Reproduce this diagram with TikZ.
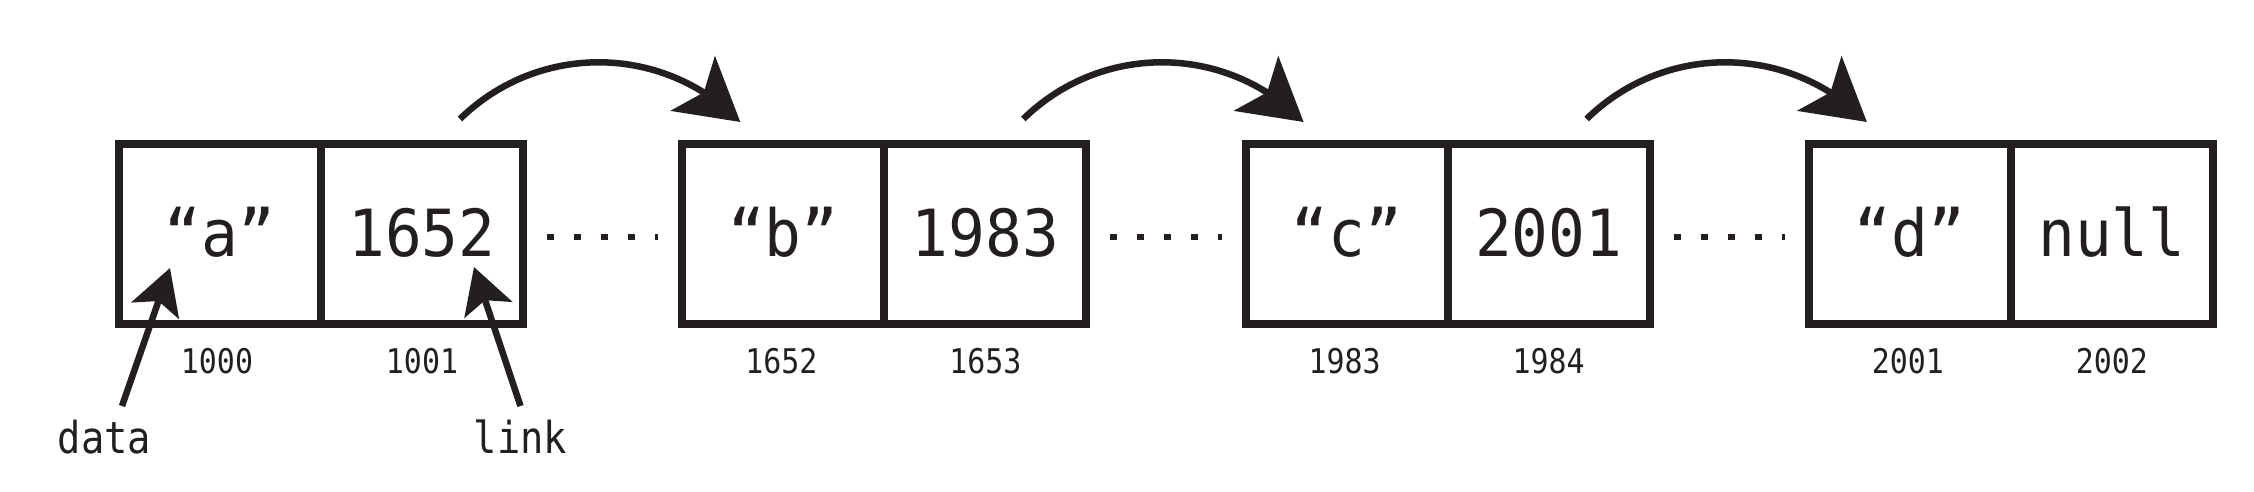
\documentclass[tikz,border=0pt]{standalone}
\usepackage{fontspec}
\newfontfamily\dvmono[FakeStretch=0.88]{DejaVu Sans Mono}
\newfontfamily\dvmonobig[FakeStretch=0.94]{DejaVu Sans Mono}
\usetikzlibrary{arrows.meta,bending}
\definecolor{ink}{RGB}{35,31,32}
\begin{document}
\begin{tikzpicture}[x=1pt,y=-1pt,
  cell/.style={draw=ink,line width=8pt,minimum width=202pt,minimum height=180pt,
    inner sep=0pt,outer sep=0pt,text=ink,text height=44pt,text depth=0pt,
    font=\dvmonobig\fontsize{65}{72}\selectfont},
  addr/.style={text=ink,inner sep=0pt,font=\dvmono\fontsize{34}{40}\selectfont},
  lbl/.style={text=ink,inner sep=0pt,text height=26pt,text depth=0pt,font=\dvmono\fontsize{44}{50}\selectfont},
  dots/.style={draw=ink,line width=6pt,dash pattern=on 7pt off 20pt},
  nextarr/.style={draw=ink,line width=6.5pt,-{Stealth[length=61pt,width=70pt,inset=14pt]}},
  ptr/.style={draw=ink,line width=6.5pt,-{Stealth[length=45pt,width=50pt,inset=10pt]}}]
\path[use as bounding box] (0,0) rectangle (2254,492);
% cells
\node[cell] (a1) at (220,234) {“a”};
\node[cell] (a2) at (422,234) {1652};
\node[cell] (b1) at (783.3,234) {“b”};
\node[cell] (b2) at (985.3,234) {1983};
\node[cell] (c1) at (1346.6,234) {“c”};
\node[cell] (c2) at (1548.6,234) {2001};
\node[cell] (d1) at (1909.9,234) {“d”};
\node[cell] (d2) at (2111.9,234) {null};
% addresses
\node[addr] (ad1) at (217,361) {1000};
\node[addr] (ad2) at (422,361) {1001};
\node[addr] (bd1) at (781.3,361) {1652};
\node[addr] (bd2) at (985.3,361) {1653};
\node[addr] (cd1) at (1344.6,361) {1983};
\node[addr] (cd2) at (1548.6,361) {1984};
\node[addr] (dd1) at (1907.9,361) {2001};
\node[addr] (dd2) at (2111.9,361) {2002};
% dots
\draw[dots] ([xshift=24pt,yshift=-3pt]a2.east) -- ([xshift=-24pt,yshift=-3pt]b1.west);
\draw[dots] ([xshift=24pt,yshift=-3pt]b2.east) -- ([xshift=-24pt,yshift=-3pt]c1.west);
\draw[dots] ([xshift=24pt,yshift=-3pt]c2.east) -- ([xshift=-24pt,yshift=-3pt]d1.west);
% next arrows
\draw[nextarr] ([xshift=38pt,yshift=25pt]a2.north) to[bend left=45] ([xshift=58pt,yshift=22pt]b1.north west);
\draw[nextarr] ([xshift=38pt,yshift=25pt]b2.north) to[bend left=45] ([xshift=58pt,yshift=22pt]c1.north west);
\draw[nextarr] ([xshift=38pt,yshift=25pt]c2.north) to[bend left=45] ([xshift=58pt,yshift=22pt]d1.north west);
% labels
\node[lbl] (dl) at (104.5,440) {data};
\node[lbl] (ll) at (520.5,440) {link};
\draw[ptr] ([shift={(17.5,-34)}]dl.center) -- ([shift={(-50,34)}]a1.center);
\draw[ptr] ([shift={(0,-34)}]ll.center) -- ([shift={(52,33)}]a2.center);
\end{tikzpicture}
\end{document}
